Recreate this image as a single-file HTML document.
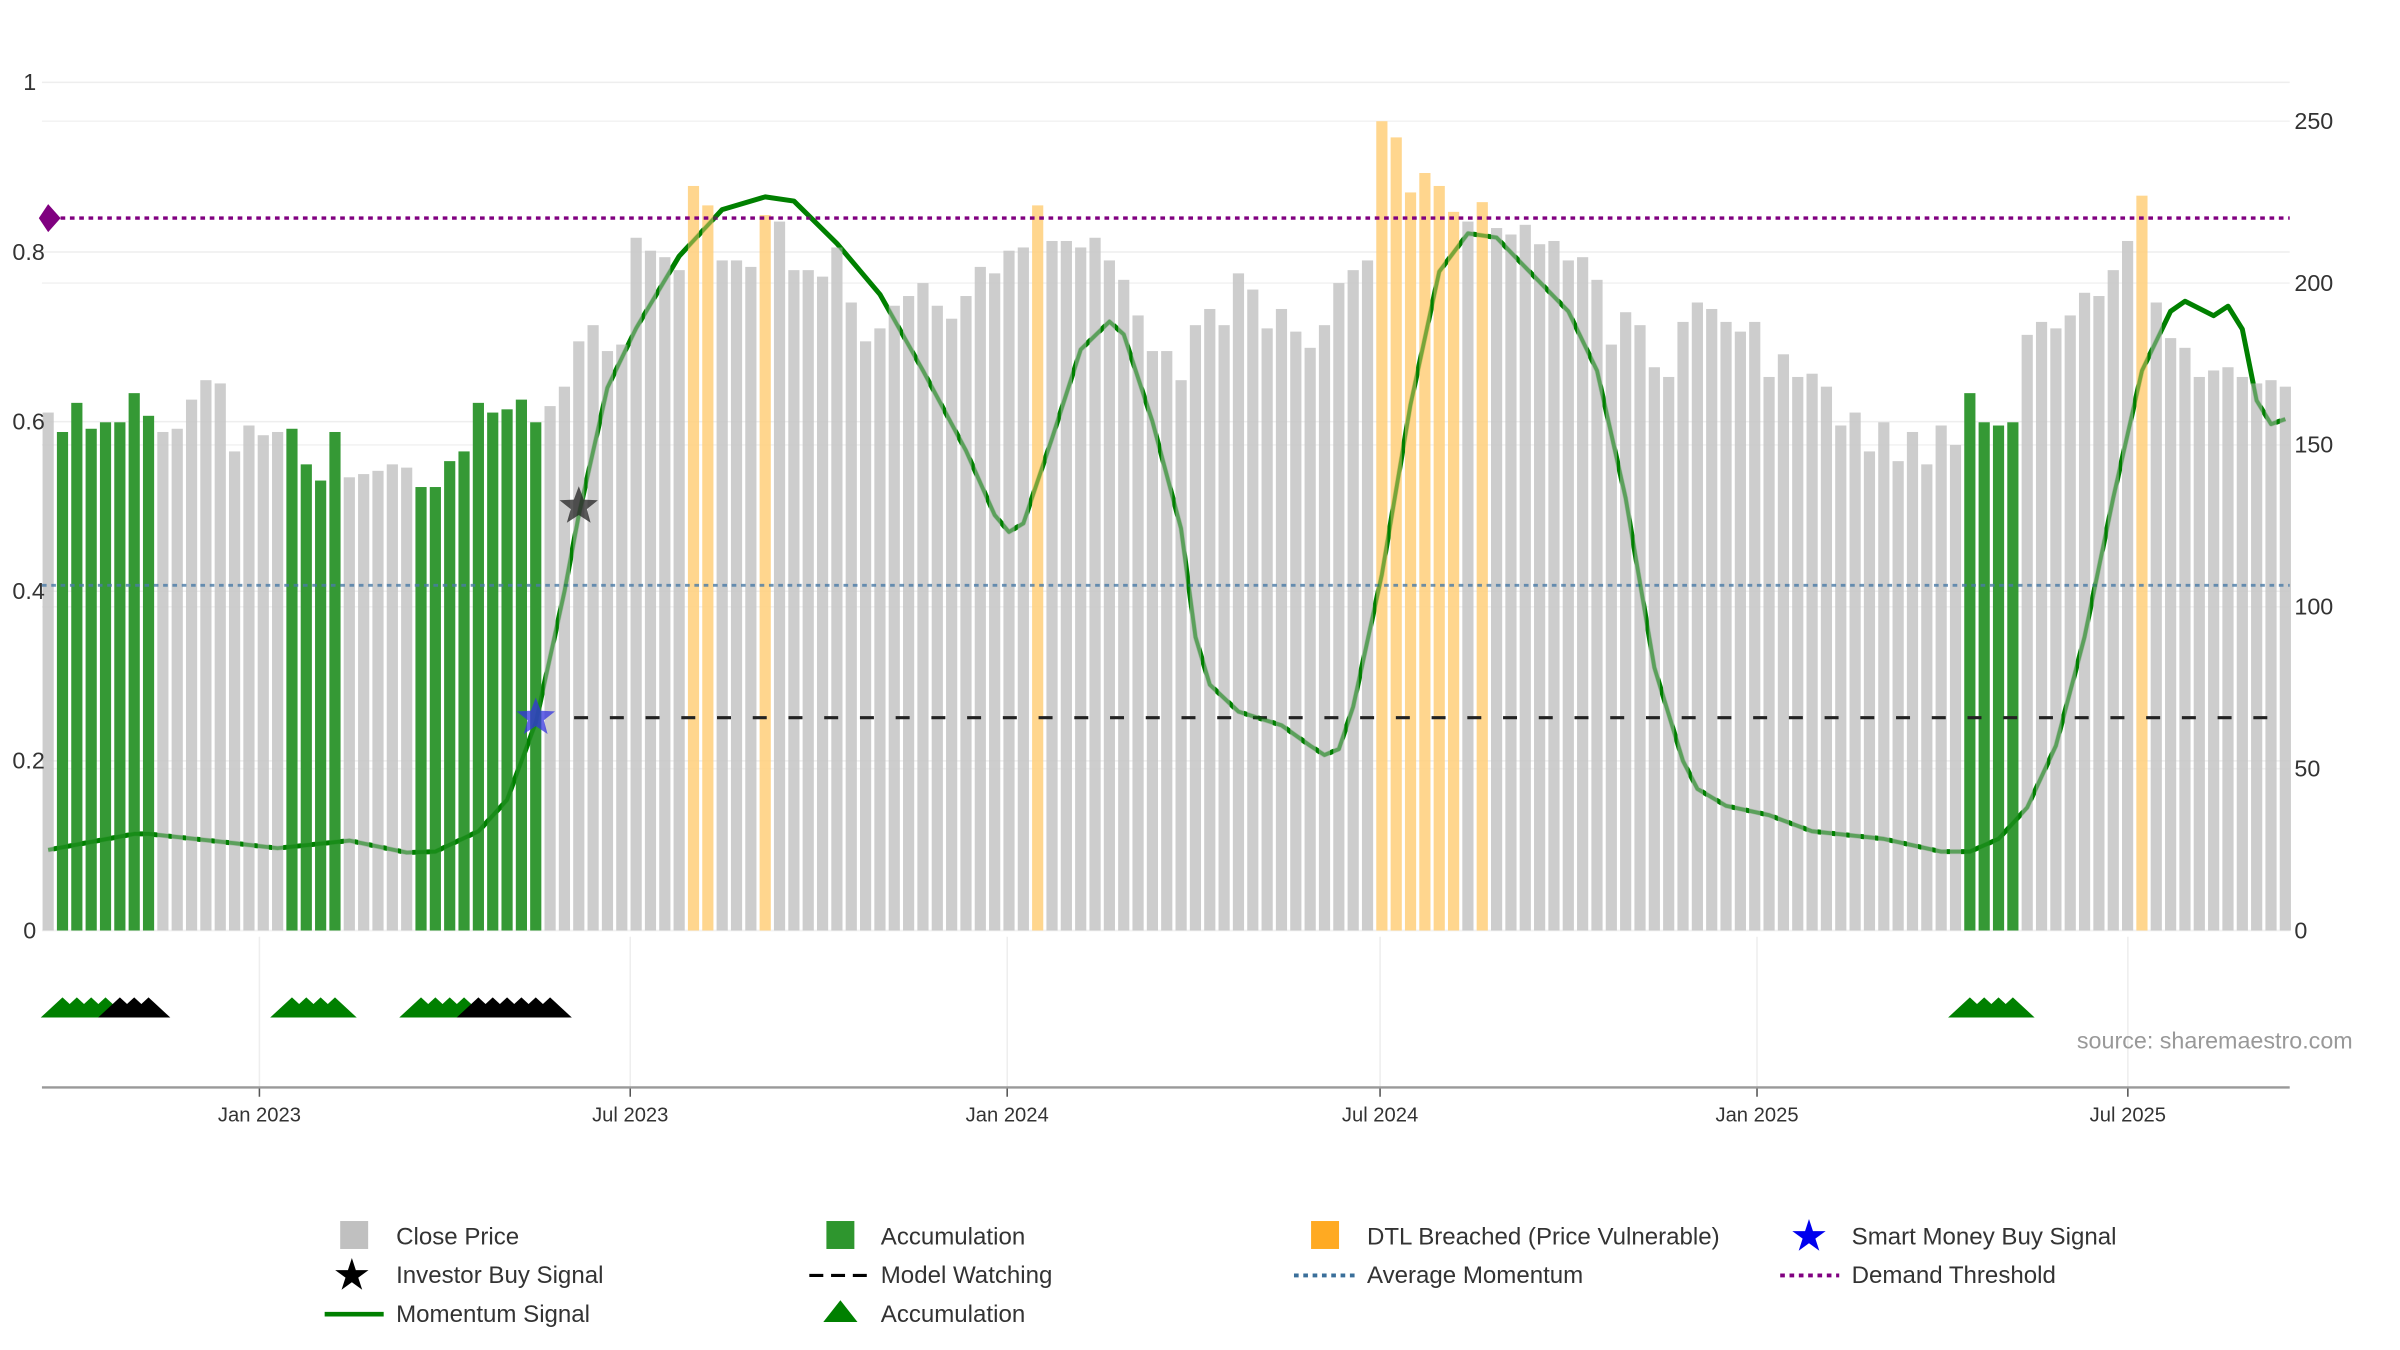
<!DOCTYPE html>
<html><head><meta charset="utf-8"><style>
html,body{margin:0;padding:0;background:#fff}
svg{display:block;font-family:"Liberation Sans","DejaVu Sans",sans-serif}
</style></head><body>
<svg id="chart" width="2400" height="1350" viewBox="0 0 1545 869" xmlns="http://www.w3.org/2000/svg">
<g id="grid"></g>
<g id="lines"></g>
<g id="mom"></g>
<g id="bars"></g>
<g id="marks"></g>
<g id="axes"></g>
<text x="1337" y="675" font-size="15" fill="#999">source: sharemaestro.com</text>
<g id="legend" font-size="15.5" fill="#333">
 <g><rect x="219" y="786" width="18" height="18" fill="#c0c0c0"/><text x="255" y="801">Close Price</text></g>
 <g><rect x="532" y="786" width="18" height="18" fill="#2e962e"/><text x="567" y="801">Accumulation</text></g>
 <g><rect x="844" y="786" width="18" height="18" fill="#ffaa22"/><text x="880" y="801">DTL Breached (Price Vulnerable)</text></g>
 <g><text x="1152" y="805" font-size="28" fill="#0000ee">★</text><text x="1192" y="801">Smart Money Buy Signal</text></g>
 <g><text x="214" y="830" font-size="28" fill="#000">★</text><text x="255" y="826">Investor Buy Signal</text></g>
 <g><line x1="521" y1="821" x2="558" y2="821" stroke="#000" stroke-width="2" stroke-dasharray="9,5"/><text x="567" y="826">Model Watching</text></g>
 <g><line x1="833" y1="821" x2="872" y2="821" stroke="#3a6f9a" stroke-width="2.5" stroke-dasharray="3,3"/><text x="880" y="826">Average Momentum</text></g>
 <g><line x1="1146" y1="821" x2="1184" y2="821" stroke="#800080" stroke-width="2.5" stroke-dasharray="3,3"/><text x="1192" y="826">Demand Threshold</text></g>
 <g><line x1="209" y1="846" x2="247" y2="846" stroke="#008000" stroke-width="3"/><text x="255" y="851">Momentum Signal</text></g>
 <g><polygon points="530,851 541,837 552,851" fill="#008000"/><text x="567" y="851">Accumulation</text></g>
</g>
</svg>
<script>
const prices=[160,154,163,155,157,157,166,159,154,155,164,170,169,148,156,153,154,155,144,139,154,140,141,142,144,143,137,137,145,148,163,160,161,164,157,162,168,182,187,179,181,214,210,208,204,230,224,207,207,205,221,219,204,204,202,211,194,182,186,193,196,200,193,189,196,205,203,210,211,224,213,213,211,214,207,201,190,179,179,170,187,192,187,203,198,186,192,185,180,187,200,204,207,250,245,228,234,230,222,219,225,217,215,218,212,213,207,208,201,181,191,187,174,171,188,194,192,188,185,188,171,178,171,172,168,156,160,148,157,145,154,144,156,150,166,157,156,157,184,188,186,190,197,196,204,213,227,194,183,180,171,173,174,171,169,170,168];
const accumWeeks=[1,2,3,4,5,6,7,17,18,19,20,26,27,28,29,30,31,32,33,34,134,135,136,137];
const dtlWeeks=[45,46,50,69,93,94,95,96,97,98,100,146];
const momWeeks=[0,6,7,13,16,21,25,27,30,32,34,36,37,39,41,44,47,50,52,55,58,61,64,66,67,68,70,72,74,75,77,79,80,81,83,86,88,89,90,91,93,95,97,99,101,103,106,108,110,112,114,115,117,120,123,128,132,134,136,138,140,142,144,146,148,149,151,152,153,154,155,156];
const momValues=[.095,.114,.114,.103,.097,.106,.092,.093,.117,.154,.245,.40,.49,.64,.71,.795,.85,.865,.86,.81,.75,.66,.566,.49,.47,.48,.58,.685,.718,.703,.60,.474,.346,.29,.258,.242,.218,.207,.214,.264,.42,.62,.777,.822,.817,.782,.73,.66,.51,.31,.20,.167,.147,.136,.117,.108,.093,.093,.108,.145,.218,.346,.51,.66,.73,.742,.725,.736,.709,.625,.597,.603];
const triGreen=[1,2,3,4,17,18,19,20,26,27,28,29,134,135,136,137];
const triBlack=[5,6,7,30,31,32,33,34,35];
const investorSignal={week:37,value:.50};
const smartSignal={week:34,value:.251};
const demandThreshold=.84, avgMomentum=.407, watchLevel=.251, watchStart=37;
const dateTicks=["Jan 2023","Jul 2023","Jan 2024","Jul 2024","Jan 2025","Jul 2025"];
const dateTickDays=[0,181,365,547,731,912];
const leftTicks=[0,0.2,0.4,0.6,0.8,1];
const rightTicks=[0,50,100,150,200,250];

const NS="http://www.w3.org/2000/svg";
function mk(p,t,a){const e=document.createElementNS(NS,t);for(const k in a)e.setAttribute(k,a[k]);p.appendChild(e);return e;}
const X0=31,STEP=9.232;
const xw=w=>X0+w*STEP;
const xd=d=>167+d*(STEP/7);
const yP=p=>599-p*2.084;
const yM=v=>599-v*546;
const grid=document.getElementById('grid'),lines=document.getElementById('lines'),mom=document.getElementById('mom'),bars=document.getElementById('bars'),marks=document.getElementById('marks'),axes=document.getElementById('axes');

leftTicks.forEach(v=>{const l=mk(grid,'line',{x1:27,x2:1474,y1:yM(v),y2:yM(v),stroke:'#eeeeee','stroke-width':1});


const t=mk(axes,'text',{x:v===1?15:(v===0?15:8),y:yM(v)+5,'font-size':15,fill:'#333'});t.textContent=v===0?'0':(v===1?'1':v.toFixed(1));

});
rightTicks.forEach(v=>{const t=mk(axes,'text',{x:1477,y:yP(v)+5,'font-size':15,fill:'#333'});t.textContent=v;


const l=mk(grid,'line',{x1:27,x2:1474,y1:yP(v),y2:yP(v),stroke:'#f3f3f3','stroke-width':1});

});

let d='';momWeeks.forEach((w,i)=>{d+=(i?'L':'M')+xw(w).toFixed(1)+','+yM(momValues[i]).toFixed(1);});
const ml=mk(mom,'path',{d:d,fill:'none',stroke:'#008000','stroke-width':3.2,'stroke-linejoin':'round'});



const col={g:'#c4c4c4',a:'#2e962e',o:'#ffcf7a'};
prices.forEach((p,i)=>{const k=accumWeeks.includes(i)?'a':(dtlWeeks.includes(i)?'o':'g');const r=mk(bars,'rect',{x:xw(i)-3.6,y:yP(p),width:7.2,height:599-yP(p),fill:col[k],'fill-opacity':k==='a'?0.97:0.85});

});

const dl=mk(marks,'line',{x1:27,x2:1474,y1:yM(demandThreshold),y2:yM(demandThreshold),stroke:'#800080','stroke-width':2.2,'stroke-dasharray':'3,3'});


const al=mk(marks,'line',{x1:27,x2:1474,y1:yM(avgMomentum),y2:yM(avgMomentum),stroke:'#4a7ba6','stroke-width':1.8,'stroke-dasharray':'3,3','stroke-opacity':0.8});


const wl=mk(marks,'line',{x1:xw(watchStart)-3,x2:xw(prices.length-1),y1:yM(watchLevel),y2:yM(watchLevel),stroke:'#222','stroke-width':2,'stroke-dasharray':'9,14'});


const ml2=mk(marks,'path',{d:d,fill:'none',stroke:'#008000','stroke-width':2.4,'stroke-opacity':0.45,'stroke-linejoin':'round'});


const dia=mk(marks,'polygon',{points:`${xw(0)-6},${yM(demandThreshold)} ${xw(0)},${yM(demandThreshold)-9} ${xw(0)+8},${yM(demandThreshold)} ${xw(0)},${yM(demandThreshold)+9}`,fill:'#800080'});


function star(cx,cy,r,fill,name){let pts=[];for(let i=0;i<10;i++){const a=-Math.PI/2+i*Math.PI/5,rr=i%2?r*0.42:r;pts.push((cx+rr*Math.cos(a)).toFixed(1)+','+(cy+rr*Math.sin(a)).toFixed(1));}
const s=mk(marks,'polygon',{points:pts.join(' '),fill:fill,'fill-opacity':0.75});

}
star(xw(investorSignal.week),yM(investorSignal.value),13,'#222','investor-buy-signal');
star(xw(smartSignal.week),yM(smartSignal.value),13,'#3333dd','smart-money-buy-signal');

function tri(w,fill){const x=xw(w),y=655;const t=mk(marks,'polygon',{points:`${x-14},${y} ${x},${y-13} ${x+14},${y}`,fill:fill});

}
triGreen.forEach(w=>tri(w,'#008000'));triBlack.forEach(w=>tri(w,'#000'));

dateTickDays.forEach((dd,i)=>{const x=xd(dd);
const g=mk(grid,'line',{x1:x,x2:x,y1:603,y2:700,stroke:'#eeeeee','stroke-width':1});


const tk=mk(axes,'line',{x1:x,x2:x,y1:700,y2:706,stroke:'#555','stroke-width':1});


const t=mk(axes,'text',{x:x,y:722,'font-size':13,fill:'#333','text-anchor':'middle'});t.textContent=dateTicks[i];

});
const ax=mk(axes,'line',{x1:27,x2:1474,y1:700,y2:700,stroke:'#999','stroke-width':1.5});


</script>
</body></html>
